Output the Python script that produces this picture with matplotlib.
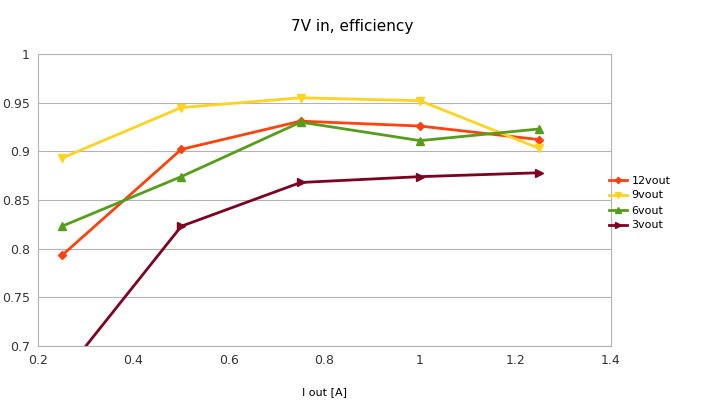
import matplotlib
matplotlib.use("Agg")
import matplotlib.pyplot as plt

x = [0.25, 0.5, 0.75, 1.0, 1.25]
names = ["12vout", "9vout", "6vout", "3vout"]
v12 = [0.793, 0.902, 0.931, 0.926, 0.912]
v9 = [0.893, 0.945, 0.955, 0.952, 0.903]
v6 = [0.823, 0.874, 0.930, 0.911, 0.923]
v3 = [0.669, 0.823, 0.868, 0.874, 0.878]
series = [v12, v9, v6, v3]
colors = ["#FF420E", "#FFD320", "#579D1C", "#7E0021"]
markers = ["D", "v", "^", ">"]
msizes = [4, 6, 6, 6]

fig = plt.figure(figsize=(7.04, 4.01), dpi=100)
ax = fig.add_axes([38/704, 1-346/401, (611-38)/704, (346-54)/401])
for vals, n, c, m, ms in zip(series, names, colors, markers, msizes):
    ax.plot(x, vals, color=c, marker=m, markersize=ms, lw=2, label=n, clip_on=True)
ax.set_xlim(0.2, 1.4)
ax.set_ylim(0.7, 1.0)
ax.set_xticks([0.2, 0.4, 0.6, 0.8, 1.0, 1.2, 1.4])
ax.set_xticklabels(["0.2", "0.4", "0.6", "0.8", "1", "1.2", "1.4"])
ax.set_yticks([0.7, 0.75, 0.8, 0.85, 0.9, 0.95, 1.0])
ax.set_yticklabels(["0.7", "0.75", "0.8", "0.85", "0.9", "0.95", "1"])
ax.grid(True, axis="y", color="#b3b3b3", lw=0.8)
ax.set_axisbelow(True)
for s in ax.spines.values():
    s.set_color("#b3b3b3")
ax.tick_params(length=0, labelsize=9, pad=6, colors="#333333")
ax.set_xlabel("I out [A]", fontsize=8, labelpad=14)
fig.text(352/704, 1-27/401, "7V in, efficiency", ha="center", va="center", fontsize=11)
fig.legend(loc="center left", bbox_to_anchor=(605/704, 1-203/401), frameon=False,
           fontsize=8, handlelength=1.6, handletextpad=0.4, labelspacing=0.45,
           borderaxespad=0, markerscale=0.8)
fig.savefig("out.png", dpi=100)
